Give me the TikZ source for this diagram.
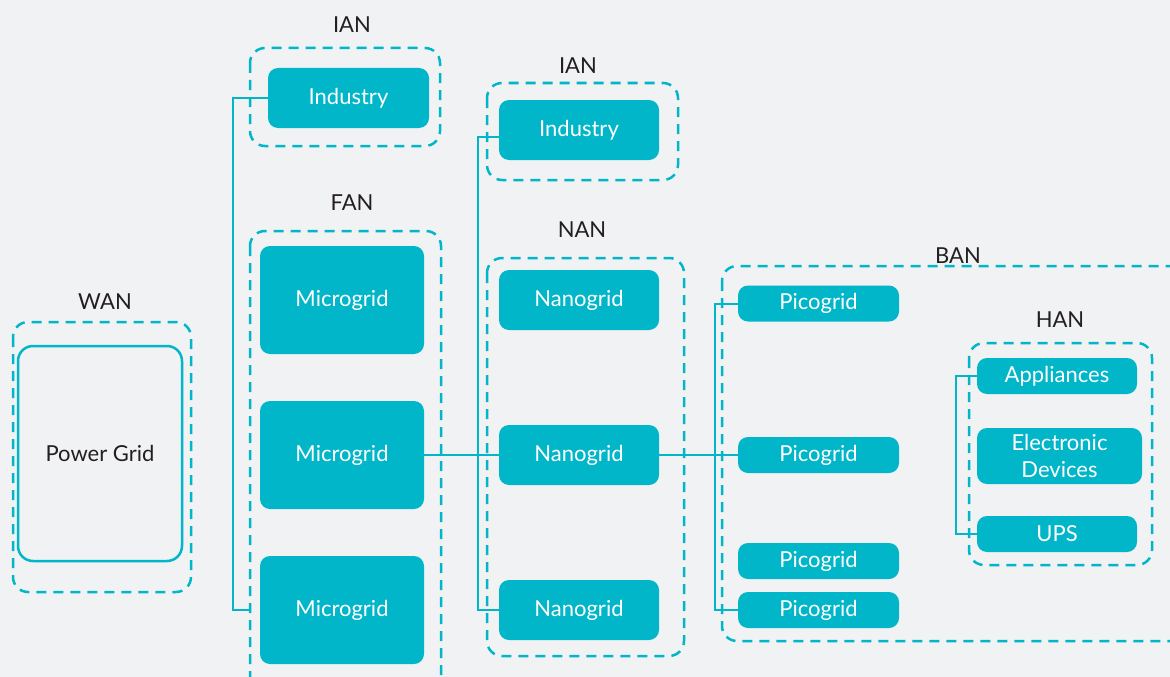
\documentclass[tikz,border=0pt]{standalone}
\usepackage{fontspec}
\setmainfont{Lato}
\definecolor{gridteal}{HTML}{00B6C8}
\definecolor{paper}{HTML}{F1F2F4}
\definecolor{ink}{HTML}{231F20}
\tikzset{
  unit/.style={fill=gridteal, rounded corners=10pt, text=white, inner sep=0pt, align=center},
  zone/.style={draw=gridteal, dash pattern=on 10pt off 7pt, line width=2.5pt, rounded corners=15pt},
  link/.style={draw=gridteal, line width=2pt},
  zonelabel/.style={text=ink, inner sep=0pt}
}
\begin{document}
\begin{tikzpicture}[x=1pt,y=-1pt,font=\fontsize{22}{27}\selectfont]
	%canvas
	\path[use as bounding box, fill=paper] (0,0) rectangle (1170,677);
	\clip (0,0) rectangle (1170,677);

	%zones
	\draw[zone] (13,322) rectangle (191,592); %WAN
	\draw[zone] (250,48) rectangle (440,146); %IAN top
	\draw[zone] (250,231) rectangle (441,720); %FAN
	\draw[zone] (487,83) rectangle (678,180); %IAN second
	\draw[zone] (487,258) rectangle (684,656); %NAN
	\draw[zone] (722,266) rectangle (1220,641); %BAN
	\draw[zone] (969,343) rectangle (1152,565); %HAN

	%zone labels
	\node[zonelabel] (wanlbl) at (105,302) {WAN};
	\node[zonelabel] (ianlbl) at (352,25) {IAN};
	\node[zonelabel] (fanlbl) at (352,203) {FAN};
	\node[zonelabel] (ianlbltwo) at (578,66) {IAN};
	\node[zonelabel] (nanlbl) at (582,230) {NAN};
	\node[zonelabel] (banlbl) at (958,256) {BAN};
	\node[zonelabel] (hanlbl) at (1060,320) {HAN};

	%power grid
	\node[draw=gridteal, line width=2.5pt, rounded corners=15pt, text=ink,
	  minimum width=164pt, minimum height=215pt] (pg) at (100,453.5) {Power Grid};

	%industry and microgrids
	\node[unit, minimum width=161pt, minimum height=60pt] (ind1) at (348.5,98) {Industry};
	\foreach \name/\y in {mic1/300, mic2/455, mic3/610}
	  \node[unit, minimum width=164pt, minimum height=108pt] (\name) at (342,\y) {Microgrid};

	%industry and nanogrids
	\node[unit, minimum width=160pt, minimum height=60pt] (ind2) at (579,130) {Industry};
	\foreach \name/\y in {nan1/300, nan2/455, nan3/610}
	  \node[unit, minimum width=160pt, minimum height=60pt] (\name) at (579,\y) {Nanogrid};

	%picogrids
	\foreach \name/\y in {pic1/303.5, pic2/455, pic3/561, pic4/610}
	  \node[unit, minimum width=161pt, minimum height=36pt] (\name) at (818.5,\y) {Picogrid};

	%home devices
	\node[unit, minimum width=160pt, minimum height=36pt] (app) at (1057,376) {Appliances};
	\node[unit, minimum width=165pt, minimum height=56pt] (dev) at (1059.5,456) {Electronic\\Devices};
	\node[unit, minimum width=160pt, minimum height=36pt] (ups) at (1057,534) {UPS};

	%connectors
	\draw[link, shorten >=10pt] (ind1.west) -- ++(-35,0) |- (mic3.west); %IAN to FAN bus
	\draw[link] (mic2.east) -- (nan2.west); %FAN to NAN
	\draw[link] ([yshift=-7pt]ind2.west) -- ++(-21,0) |- (nan3.west); %IAN to NAN bus
	\draw[link] (nan2.east) -- (pic2.west); %NAN to BAN
	\draw[link] (pic1.west) -- ++(-23,0) |- (pic4.west); %BAN bus
	\draw[link] (app.west) -- ++(-21,0) |- (ups.west); %HAN bus
\end{tikzpicture}
\end{document}
